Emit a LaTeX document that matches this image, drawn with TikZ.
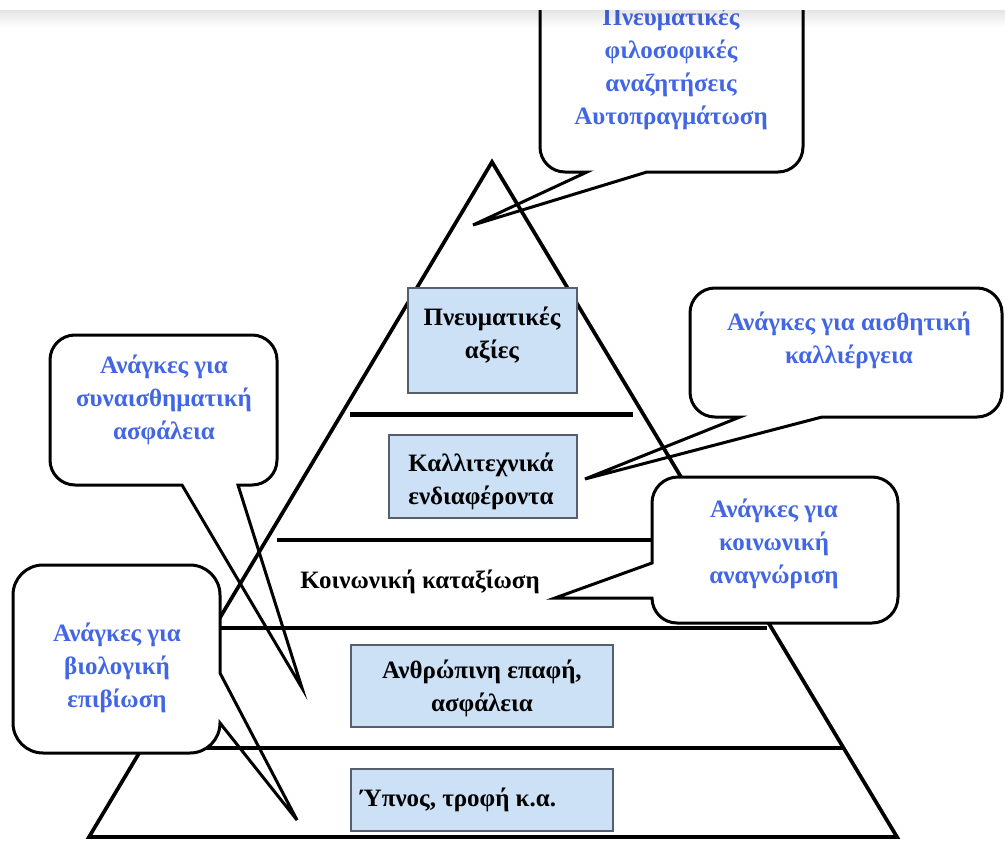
\documentclass[tikz,border=0pt]{standalone}
\usepackage{fontspec}
\setmainfont{Liberation Serif}
\definecolor{cblue}{RGB}{66,102,228}
\definecolor{boxfill}{RGB}{204,224,246}
\definecolor{boxline}{RGB}{85,95,110}
\begin{document}
\begin{tikzpicture}[x=1pt,y=-1pt,
  pyr/.style={line width=3.7pt},
  tier/.style={line width=4.2pt},
  callout/.style={line width=3pt, line join=miter},
  bodyfill/.style={fill=white, rounded corners=25pt},
  pbox/.style={draw=boxline, fill=boxfill, line width=1.5pt, inner sep=0pt},
  btxt/.style={font=\fontsize{25}{33}\selectfont\bfseries, align=center, inner sep=0pt},
  ctxt/.style={font=\fontsize{25}{33}\selectfont\bfseries, text=cblue, align=center, inner sep=0pt}]
\useasboundingbox (0,0) rectangle (1005,841);
\fill[white] (0,0) rectangle (1005,841);

% pyramid
\coordinate (apex) at (492,162);
\coordinate (bl) at (89,837);
\coordinate (br) at (897,837);
\draw[pyr] (bl) -- (apex) -- (br) -- cycle;
\coordinate (l1a) at (350,414); \coordinate (l1b) at (633,414);
\coordinate (l2a) at (277,540); \coordinate (l2b) at (719,540);
\coordinate (l3a) at (214,628); \coordinate (l3b) at (767,628);
\coordinate (l4a) at (142,748); \coordinate (l4b) at (843,748);
\draw[line width=5pt] (l1a) -- (l1b);
\draw[tier] (l2a) -- (l2b);
\draw[tier] (l3a) -- (l3b);
\draw[tier] (l4a) -- (l4b);

% boxes
\node[pbox, minimum width=169pt, minimum height=105pt] (b1) at (492.5,340.5) {};
\node[btxt] (t1) at (492,335) {Πνευματικές\\αξίες};
\node[pbox, minimum width=188pt, minimum height=83pt] (b2) at (483,476.5) {};
\node[btxt] (t2) at (481,481) {Καλλιτεχνικά\\ενδιαφέροντα};
\node[btxt] (t3) at (420,582) {Κοινωνική καταξίωση};
\node[pbox, minimum width=262pt, minimum height=82pt] (b4) at (482,686) {};
\node[btxt] (t4) at (482,688) {Ανθρώπινη επαφή,\\ασφάλεια};
\node[pbox, minimum width=262pt, minimum height=62pt] (b5) at (482,800) {};
\node[btxt, anchor=west] (t5) at (360,800) {Ύπνος, τροφή κ.α.};

% callout bodies
\fill[bodyfill] (540,-40) rectangle (803,172);
\fill[bodyfill] (690,288) rectangle (1002,417);
\fill[bodyfill] (652,477) rectangle (898,623);
\fill[bodyfill] (50,335) rectangle (277,485);
\fill[white, rounded corners=30pt] (13,565) rectangle (220,753);

% callout outlines
\coordinate (tipA) at (473,225);
\coordinate (tipB) at (585,479);
\coordinate (tipC) at (555,598);
\coordinate (tipD) at (302,688);
\coordinate (tipE) at (297,820);
\draw[callout] (540,-40) -- (540,147) .. controls (540,160.8) and (551.2,172) .. (565,172)
  -- (587,172) -- (tipA) -- (647,172) -- (778,172)
  .. controls (791.8,172) and (803,160.8) .. (803,147) -- (803,-40);
\draw[callout] (715,288) -- (977,288) .. controls (990.8,288) and (1002,299.2) .. (1002,313)
  -- (1002,392) .. controls (1002,405.8) and (990.8,417) .. (977,417)
  -- (822,417) -- (tipB) -- (740,417) -- (715,417)
  .. controls (701.2,417) and (690,405.8) .. (690,392) -- (690,313)
  .. controls (690,299.2) and (701.2,288) .. (715,288) -- cycle;
\draw[callout] (678,477) -- (872,477) .. controls (886.4,477) and (898,488.6) .. (898,503)
  -- (898,597) .. controls (898,611.4) and (886.4,623) .. (872,623) -- (677,623)
  .. controls (663.2,623) and (652,611.8) .. (652,598) -- (tipC) -- (652,563)
  -- (652,503) .. controls (652,488.6) and (663.6,477) .. (678,477) -- cycle;
\draw[callout] (75,335) -- (252,335) .. controls (265.8,335) and (277,346.2) .. (277,360)
  -- (277,460) .. controls (277,473.8) and (265.8,485) .. (252,485)
  -- (238,485) -- (tipD) -- (182,485) -- (75,485)
  .. controls (61.2,485) and (50,473.8) .. (50,460) -- (50,360)
  .. controls (50,346.2) and (61.2,335) .. (75,335) -- cycle;
\draw[callout] (43,565) -- (190,565) .. controls (206.6,565) and (220,578.4) .. (220,595)
  -- (220,673) -- (tipE) -- (220,723)
  .. controls (220,739.6) and (206.6,753) .. (190,753) -- (43,753)
  .. controls (26.4,753) and (13,739.6) .. (13,723) -- (13,595)
  .. controls (13,578.4) and (26.4,565) .. (43,565) -- cycle;

% callout texts
\node[ctxt] (cA) at (671,68.5) {Πνευματικές\\φιλοσοφικές\\αναζητήσεις\\Αυτοπραγμάτωση};
\node[ctxt] (cB) at (849,340) {Ανάγκες για αισθητική\\καλλιέργεια};
\node[ctxt] (cC) at (774,544) {Ανάγκες για\\κοινωνική\\αναγνώριση};
\node[ctxt] (cD) at (164,400) {Ανάγκες για\\συναισθηματική\\ασφάλεια};
\node[ctxt] (cE) at (117,668) {Ανάγκες για\\βιολογική\\επιβίωση};

% top band
\fill[white] (0,-50) rectangle (1005,10);
\foreach \i in {0,...,17}{
  \pgfmathsetmacro\op{0.10*(1-\i/18)}
  \fill[black,opacity=\op] (0,10+\i) rectangle (1005,11+\i);
}
\end{tikzpicture}
\end{document}
